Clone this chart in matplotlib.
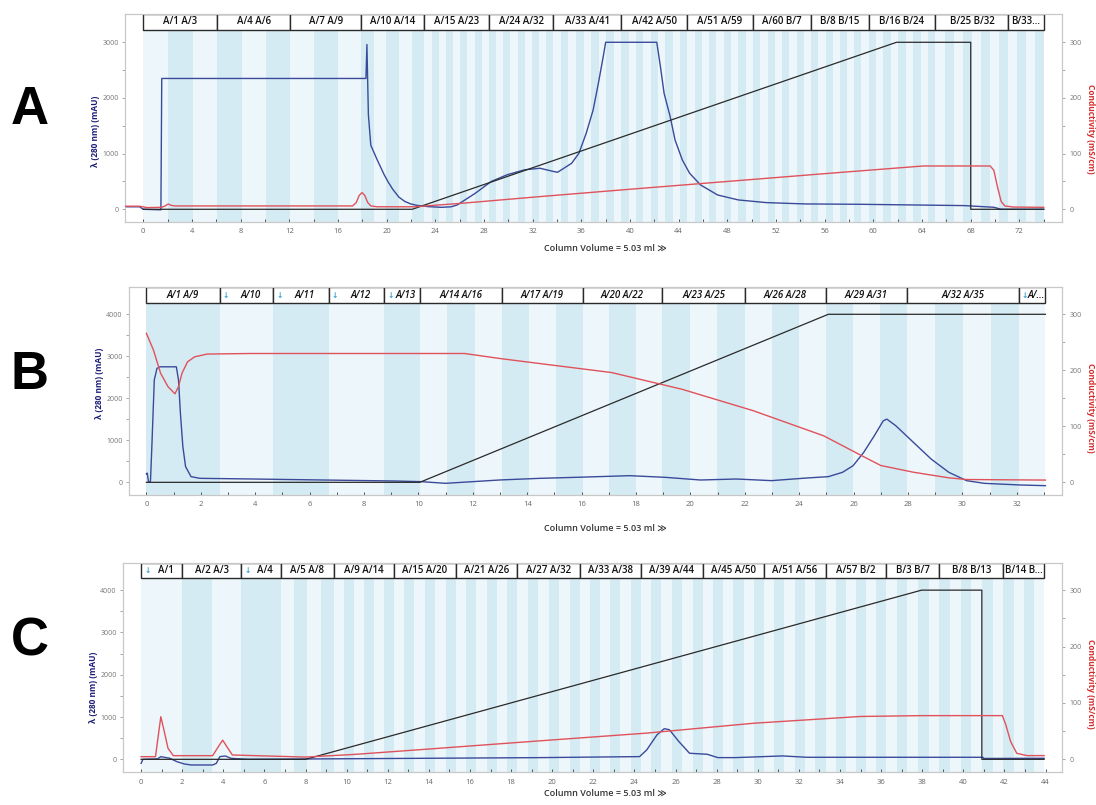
import matplotlib
matplotlib.use("Agg")
import matplotlib.pyplot as plt
from matplotlib.patches import Rectangle
from matplotlib.ticker import FixedLocator

plt.rcParams['font.family'] = ['Open Sans', 'DejaVu Sans']

W, H = 1096, 805
fig = plt.figure(figsize=(W / 100, H / 100), dpi=100)

# ---------------- Panel A data ----------------
a_frac_edges = [0, 6.1, 12.1, 17.9, 23.1, 28.4, 33.7, 39.3, 44.7, 50.1, 54.9, 59.6, 65.1, 71.1, 74.0]
a_frac_labels = ["A/1 A/3", "A/4 A/6", "A/7 A/9", "A/10 A/14", "A/15 A/23", "A/24 A/32",
                 "A/33 A/41", "A/42 A/50", "A/51 A/59", "A/60 B/7", "B/8 B/15", "B/16 B/24",
                 "B/25 B/32", "B/33..."]
a_frac_counts = [3, 3, 3, 5, 9, 9, 9, 9, 9, 8, 8, 9, 8, 4]
a_frac_icons = [False] * 14

a_uv_x = [-1.5, -0.3, 0.0, 1.45, 1.52, 18.3, 18.38, 18.5, 18.7, 18.9, 19.2, 19.5, 19.8, 20.1,
          20.5, 21.0, 21.5, 22.0, 22.5, 23.4, 24.5, 25.3, 25.8, 27.3, 28.6, 29.9, 31.35, 32.6,
          33.76, 34.05, 35.2, 35.8, 36.4, 36.97, 37.4, 37.8, 38.0, 42.2, 42.5, 42.8, 43.3, 43.7,
          44.3, 44.9, 45.8, 47.2, 48.9, 51.2, 54.4, 58.8, 63.2, 67.5, 69.9, 70.5, 74.0]
a_uv_y = [45, 45, 0, -10, 2350, 2350, 2960, 1700, 1150, 1050, 900, 760, 620, 500,
          360, 220, 140, 95, 70, 48, 35, 45, 78, 290, 500, 620, 710, 737,
          677, 665, 826, 1006, 1365, 1784, 2263, 2743, 3000, 3000, 2563, 2084, 1665, 1245,
          886, 647, 437, 257, 168, 120, 96, 90, 78, 66, 36, 0, 0]
a_cond_x = [-1.5, -0.3, 0.3, 1.5, 1.8, 2.05, 2.3, 2.6, 17.2, 17.5, 17.75, 17.98, 18.2, 18.45,
            18.7, 19.2, 22.3, 26.3, 32.6, 40.0, 48.0, 56.0, 64.1, 69.6, 69.9, 70.2, 70.5, 70.8,
            71.5, 74.0]
a_cond_y = [5.5, 5.5, 3.0, 3.5, 6, 9.5, 7, 6, 6, 12, 25, 30, 25, 12,
            6, 4.5, 4.5, 11, 22.8, 36, 50, 64, 77.8, 77.8, 70, 40, 14, 6,
            4, 3.5]
a_grad_x = [0, 22.1, 61.9, 68.0, 68.0, 74.0]
a_grad_y = [0, 0, 300, 300, 0, 0]
a_xticks = list(range(0, 73, 4))
a_xminor = list(range(2, 75, 4))

# ---------------- Panel B data ----------------
b_frac_edges = [0, 2.69, 4.66, 6.7, 8.74, 10.05, 13.07, 16.04, 18.97, 22.0, 24.97, 27.96, 32.07, 33.05]
b_frac_labels = ["A/1 A/9", "A/10", "A/11", "A/12", "A/13", "A/14 A/16", "A/17 A/19",
                 "A/20 A/22", "A/23 A/25", "A/26 A/28", "A/29 A/31", "A/32 A/35", "A/..."]
b_frac_counts = [1, 1, 1, 1, 1, 3, 3, 3, 3, 3, 3, 4, 1]
b_frac_icons = [False, True, True, True, True, False, False, False, False, False, False, False, True]

b_uv_x = [0.0, 0.03, 0.08, 0.15, 0.2, 0.29, 0.39, 0.5, 1.1, 1.18, 1.25, 1.34, 1.44, 1.64, 1.97,
          3.8, 6.4, 9.1, 10.1, 11.0, 13.0, 14.47, 15.8, 17.77, 19.07, 20.37, 21.68, 22.98,
          24.28, 25.07, 25.59, 25.98, 26.37, 26.76, 27.09, 27.22, 27.55, 28.2, 28.85, 29.5,
          30.15, 30.8, 32.1, 33.05]
b_uv_y = [200, 220, 0, 30, 850, 2440, 2714, 2750, 2750, 2436, 1643, 850, 373, 135, 95,
          80, 56, 32, 16, -24, 56, 95, 119, 158, 119, 55, 79, 40,
          103, 135, 238, 396, 713, 1109, 1465, 1505, 1347, 950, 554, 238,
          40, -24, -63, -80]
b_cond_x = [0, 0.26, 0.52, 0.79, 1.05, 1.18, 1.31, 1.51, 1.77, 2.23, 3.8, 11.7, 13.0, 14.47,
            17.1, 19.7, 22.3, 24.9, 26.2, 27.0, 28.2, 29.5, 30.15, 33.05]
b_cond_y = [266, 236, 195, 171, 158, 171, 195, 215, 224, 229, 230, 230, 221, 212,
            196, 166, 128, 83, 50, 30, 18, 8, 5, 4]
b_grad_x = [0, 10.05, 25.07, 33.05]
b_grad_y = [0, 0, 300, 300]
b_xticks = list(range(0, 33, 2))
b_xminor = list(range(1, 34, 2))

# ---------------- Panel C data ----------------
c_frac_edges = [0, 2.0, 4.88, 6.79, 9.4, 12.28, 15.33, 18.29, 21.36, 24.3, 27.33, 30.3, 33.3,
                36.23, 38.83, 41.95, 43.93]
c_frac_labels = ["A/1", "A/2 A/3", "A/4", "A/5 A/8", "A/9 A/14", "A/15 A/20", "A/21 A/26",
                 "A/27 A/32", "A/33 A/38", "A/39 A/44", "A/45 A/50", "A/51 A/56", "A/57 B/2",
                 "B/3 B/7", "B/8 B/13", "B/14 B..."]
c_frac_counts = [1, 2, 1, 4, 6, 6, 6, 6, 6, 6, 6, 6, 6, 5, 6, 4]
c_frac_icons = [True, False, True] + [False] * 13

c_uv_x = [0, 0.09, 0.8, 0.96, 1.4, 1.74, 2.1, 2.44, 3.48, 3.66, 3.83, 4.1, 4.36, 5.2, 19.4,
          24.25, 24.6, 25.1, 25.45, 25.7, 26.16, 26.68, 27.54, 28.06, 28.9, 31.2, 32.4, 40.95,
          41.0, 43.93]
c_uv_y = [-95, 0, 10, 63, 24, -55, -110, -134, -134, -95, 63, 79, 24, 0, 40,
          64, 223, 580, 724, 700, 421, 143, 119, 40, 40, 80, 48, 48,
          20, 24]
c_cond_x = [0, 0.7, 0.84, 0.96, 1.13, 1.31, 1.57, 3.48, 3.75, 3.97, 4.18, 4.44, 8.0, 10.45,
            13.9, 19.4, 24.6, 29.8, 35.0, 38.0, 41.9, 42.07, 42.3, 42.6, 43.1, 43.93]
c_cond_y = [4.7, 4.7, 43, 75.6, 49, 19.5, 6.5, 6.5, 22, 34, 22, 7.7, 4, 8.9,
            18, 32.8, 46.5, 64, 76, 77.5, 77.5, 61, 31.6, 10.7, 6.6, 6.6]
c_grad_x = [0, 8.0, 37.97, 40.9, 40.9, 43.93]
c_grad_y = [0, 0, 300, 300, 0, 0]
c_xticks = list(range(0, 45, 2))
c_xminor = list(range(1, 44, 2))

# ---------------- styling ----------------
BAND_LIGHT = '#edf6fa'
BAND_DARK = '#d5ebf3'
UV_C = '#3a4a9a'
COND_C = '#e0525b'
GRAD_C = '#2a2a2a'
SPINE_C = '#c8c8c8'


def px_rect(l, r, t, b):
    return [l / W, 1 - b / H, (r - l) / W, (b - t) / H]


def panel(rect, xlim, ylim, band_top, rlim, edges, labels, counts, icons, first_dark,
          xmaj, xmin, ymaj, ymin, uv, cond, grad, italic):
    ax = fig.add_axes(rect)
    ax.set_xlim(xlim)
    ax.set_ylim(ylim)
    k = 1 if first_dark else 0
    for i, n in enumerate(counts):
        e0, e1 = edges[i], edges[i + 1]
        for j in range(n):
            x0 = e0 + (e1 - e0) * j / n
            x1 = e0 + (e1 - e0) * (j + 1) / n
            ax.add_patch(Rectangle((x0, ylim[0]), x1 - x0, band_top - ylim[0],
                                   facecolor=BAND_LIGHT if k % 2 == 0 else BAND_DARK,
                                   edgecolor='none', zorder=0))
            k += 1
    ymid = (band_top + ylim[1]) / 2
    for i, lab in enumerate(labels):
        e0, e1 = edges[i], edges[i + 1]
        ax.add_patch(Rectangle((e0, band_top), e1 - e0, ylim[1] - band_top,
                               facecolor='white', edgecolor='#2a2a2a', lw=1.0, zorder=3))
        if icons[i]:
            ax.annotate('↓', xy=(e0, ymid), xytext=(4.5, 0), textcoords='offset points',
                        ha='center', va='center', fontsize=5.5, color='#3a9fd5',
                        weight='bold', zorder=4)
            ax.annotate(lab, xy=((e0 + e1) / 2, ymid), xytext=(3, 0),
                        textcoords='offset points', ha='center', va='center',
                        fontsize=7, color='#111', weight='semibold',
                        style='italic' if italic else 'normal', zorder=4)
        else:
            ax.text((e0 + e1) / 2, ymid, lab, ha='center', va='center', fontsize=7,
                    color='#111', weight='semibold',
                    style='italic' if italic else 'normal', zorder=4)
    ax.plot(uv[0], uv[1], color=UV_C, lw=1.0, zorder=2)
    ax.xaxis.set_major_locator(FixedLocator(xmaj))
    ax.xaxis.set_minor_locator(FixedLocator(xmin))
    ax.yaxis.set_major_locator(FixedLocator(ymaj))
    ax.yaxis.set_minor_locator(FixedLocator(ymin))
    ax.tick_params(axis='x', which='both', direction='in', length=2.5, width=0.7,
                   color='#555', labelsize=5.5, labelcolor='#666', pad=4.5)
    ax.tick_params(axis='y', which='both', direction='out', length=2.5, width=0.6,
                   color='#999', labelsize=5, labelcolor='#777', pad=2)
    for s in ax.spines.values():
        s.set_color(SPINE_C)
        s.set_linewidth(0.8)

    ax2 = ax.twinx()
    ax2.set_ylim(rlim)
    ax2.plot(grad[0], grad[1], color=GRAD_C, lw=0.9, zorder=2)
    ax2.plot(cond[0], cond[1], color=COND_C, lw=1.0, zorder=3)
    ax2.yaxis.set_major_locator(FixedLocator([0, 100, 200, 300]))
    ax2.yaxis.set_minor_locator(FixedLocator([50, 150, 250]))
    ax2.tick_params(axis='y', which='both', direction='out', length=2.5, width=0.6,
                    color='#999', labelsize=5, labelcolor='#777', pad=3)
    for s in ax2.spines.values():
        s.set_color(SPINE_C)
        s.set_linewidth(0.8)
    return ax, ax2


# Panel A
panel(px_rect(125, 1062, 14, 221.7), (-1.5, 75.5), (-223, 3508), 3221, (-22.3, 350.8),
      a_frac_edges, a_frac_labels, a_frac_counts, a_frac_icons, False,
      a_xticks, a_xminor, [0, 1000, 2000, 3000], [500, 1500, 2500],
      (a_uv_x, a_uv_y), (a_cond_x, a_cond_y), (a_grad_x, a_grad_y), False)

# Panel B
panel(px_rect(129, 1062, 287.3, 494.5), (-0.64, 33.66), (-290, 4643), 4262, (-21.75, 348.2),
      b_frac_edges, b_frac_labels, b_frac_counts, b_frac_icons, True,
      b_xticks, b_xminor, [0, 1000, 2000, 3000, 4000], [500, 1500, 2500, 3500],
      (b_uv_x, b_uv_y), (b_cond_x, b_cond_y), (b_grad_x, b_grad_y), True)

# Panel C
panel(px_rect(123, 1062, 563.3, 772.3), (-0.88, 44.8), (-307, 4634), 4279, (-23.0, 347.6),
      c_frac_edges, c_frac_labels, c_frac_counts, c_frac_icons, False,
      c_xticks, c_xminor, [0, 1000, 2000, 3000, 4000], [500, 1500, 2500, 3500],
      (c_uv_x, c_uv_y), (c_cond_x, c_cond_y), (c_grad_x, c_grad_y), False)

# text labels
for ylab_x, ylab_y, ycond_y, xl_y, letter, let_y in [(96, 131, 129, 248, 'A', 110),
                                                     (99, 383, 408, 528, 'B', 375),
                                                     (94, 687, 684, 793, 'C', 641)]:
    fig.text(ylab_x / W, 1 - ylab_y / H, 'λ (280 nm) (mAU)', rotation=90, ha='center',
             va='center', fontsize=6, weight='bold', color='#1c1c78')
    fig.text(1090 / W, 1 - ycond_y / H, 'Conductivity (mS/cm)', rotation=270, ha='center',
             va='center', fontsize=6, weight='bold', color='#d42a2a')
    fig.text(605 / W, 1 - xl_y / H, 'Column Volume = 5.03 ml ≫', ha='center', va='center',
             fontsize=6.5, weight='semibold', color='#333')
    fig.text(30 / W, 1 - let_y / H, letter, ha='center', va='center', fontsize=38,
             weight='bold', family='Liberation Sans', color='black')

fig.savefig('out.png', dpi=100)
